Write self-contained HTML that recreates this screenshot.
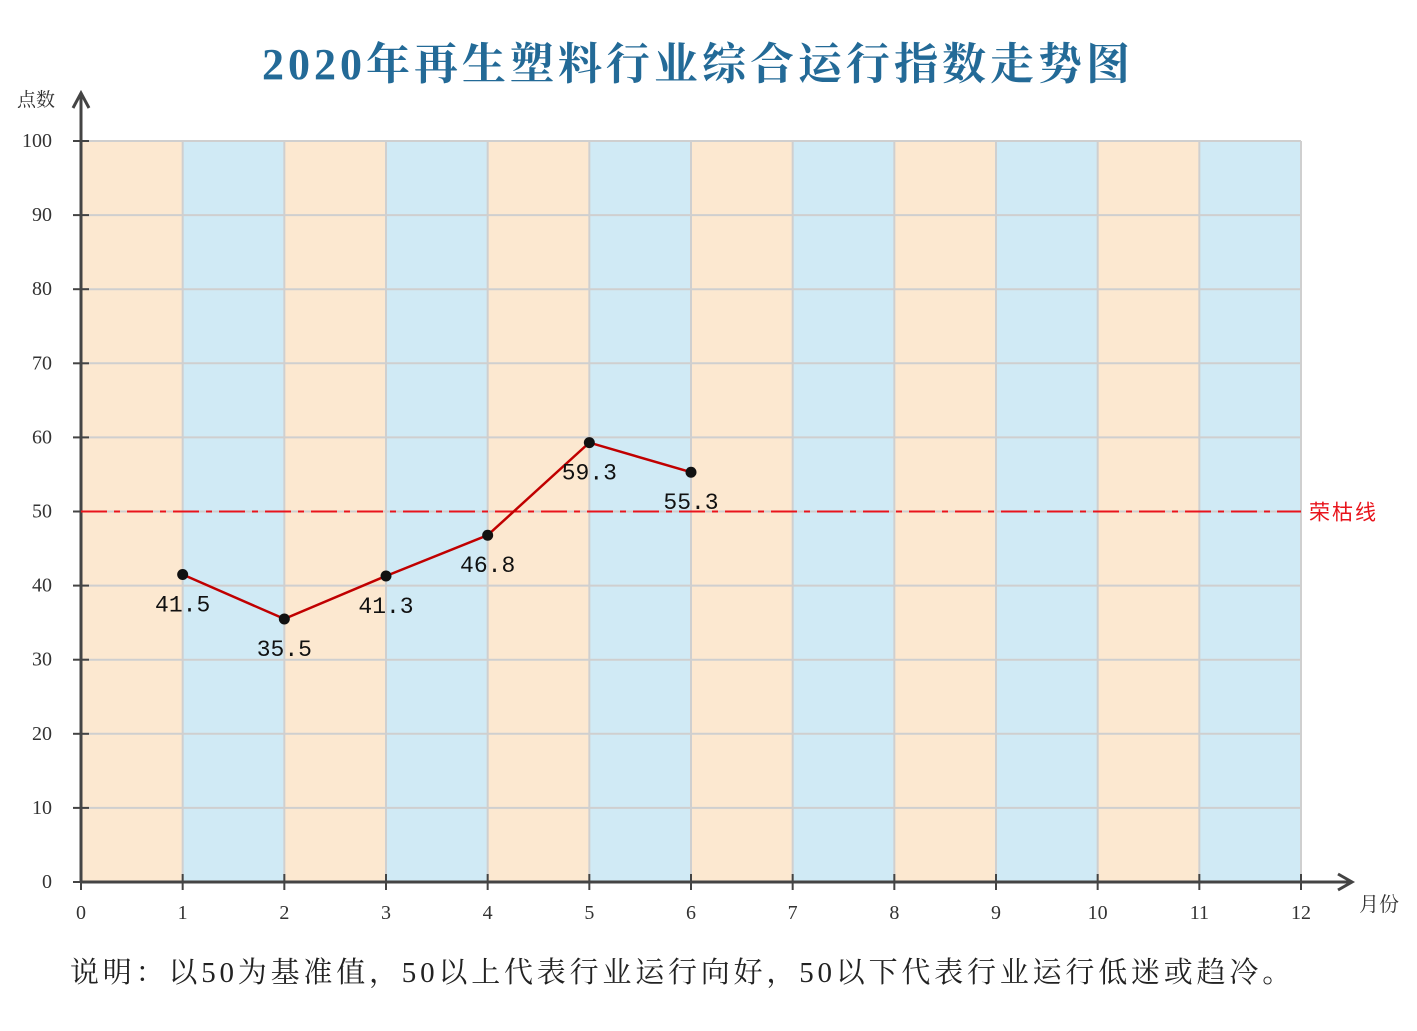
<!DOCTYPE html>
<html><head><meta charset="utf-8"><style>
body{margin:0;background:#fff}
</style></head><body>
<svg id="c" width="1417" height="1026" xmlns="http://www.w3.org/2000/svg" font-family='"Liberation Serif","Noto Serif CJK SC",serif'>
<text x="698" y="79" text-anchor="middle" font-size="44" font-weight="bold" fill="#236a97" letter-spacing="4">2020年再生塑料行业综合运行指数走势图</text>
<g id="bands"></g><g id="grid"></g><g id="axes"></g><g id="series"></g>
<text x="70" y="982" font-size="29" fill="#222" letter-spacing="3.8">说明：以50为基准值，50以上代表行业运行向好，50以下代表行业运行低迷或趋冷。</text>
</svg>
<script>
const months=[1,2,3,4,5,6];
const values=[41.5,35.5,41.3,46.8,59.3,55.3];
const valueLabels=["41.5","35.5","41.3","46.8","59.3","55.3"];
const xTicks=[0,1,2,3,4,5,6,7,8,9,10,11,12];
const yTicks=[0,10,20,30,40,50,60,70,80,90,100];
const baseline=50;
const NS="http://www.w3.org/2000/svg";
const X=v=>81+v*(1220/12), Y=v=>882-v*(741/100);
function mk(p,t,a){const e=document.createElementNS(NS,t);for(const k in a)e.setAttribute(k,a[k]);document.getElementById(p).appendChild(e);return e;}
for(let i=0;i<12;i++){
 const r=mk('bands','rect',{x:X(i),y:Y(100),width:X(i+1)-X(i),height:Y(0)-Y(100),fill:i%2?'#d0eaf5':'#fce8d0'});
 
 
}
yTicks.forEach(t=>{
 const l=mk('grid','line',{x1:X(0),x2:X(12),y1:Y(t),y2:Y(t),stroke:'#cfcfcf','stroke-width':2});
 
 
 const k=mk('axes','line',{x1:X(0)-8,x2:X(0)+8,y1:Y(t),y2:Y(t),stroke:'#444','stroke-width':2});
 
 
 const tx=mk('axes','text',{x:52,y:Y(t)+6,'text-anchor':'end','font-size':20,fill:'#333'});
 tx.textContent=t;
 
 
});
xTicks.forEach(t=>{
 if(t>0){const l=mk('grid','line',{x1:X(t),x2:X(t),y1:Y(0),y2:Y(100),stroke:'#cfcfcf','stroke-width':2});
 
 }
 const k=mk('axes','line',{x1:X(t),x2:X(t),y1:Y(0)-8,y2:Y(0)+8,stroke:'#444','stroke-width':2});
 
 
 const tx=mk('axes','text',{x:X(t),y:919,'text-anchor':'middle','font-size':20,fill:'#333'});
 tx.textContent=t;
 
 
});
let a=mk('axes','path',{d:`M${X(0)} ${Y(0)} H1352 M1338 874 L1352 882 L1338 890 M${X(0)} ${Y(0)} V93 M73 108 L81 93 L89 108`,stroke:'#444','stroke-width':3,fill:'none'});


let t1=mk('axes','text',{x:17,y:106,'font-size':19,fill:'#333'});t1.textContent='点数';


let t2=mk('axes','text',{x:1359,y:911,'font-size':20,fill:'#333'});t2.textContent='月份';


let bl=mk('series','line',{x1:X(0),x2:X(12),y1:Y(baseline),y2:Y(baseline),stroke:'#e8141c','stroke-width':2,'stroke-dasharray':'26 7 6 7'});


let bt=mk('series','text',{x:1309,y:Y(baseline)+8,'font-size':21,fill:'#e8141c','letter-spacing':2,'font-family':'"Liberation Sans","Noto Sans CJK SC",sans-serif'});bt.textContent='荣枯线';


let pl=mk('series','polyline',{points:months.map((m,i)=>X(m)+','+Y(values[i])).join(' '),fill:'none',stroke:'#c00000','stroke-width':2.5});


months.forEach((m,i)=>{
 const c=mk('series','circle',{cx:X(m),cy:Y(values[i]),r:5.5,fill:'#111'});
 
 
 const t=mk('series','text',{x:X(m),y:Y(values[i])+37,'text-anchor':'middle','font-size':23,fill:'#111','font-family':'"Liberation Mono",monospace'});
 t.textContent=valueLabels[i];
 
 
});
</script>
</body></html>
